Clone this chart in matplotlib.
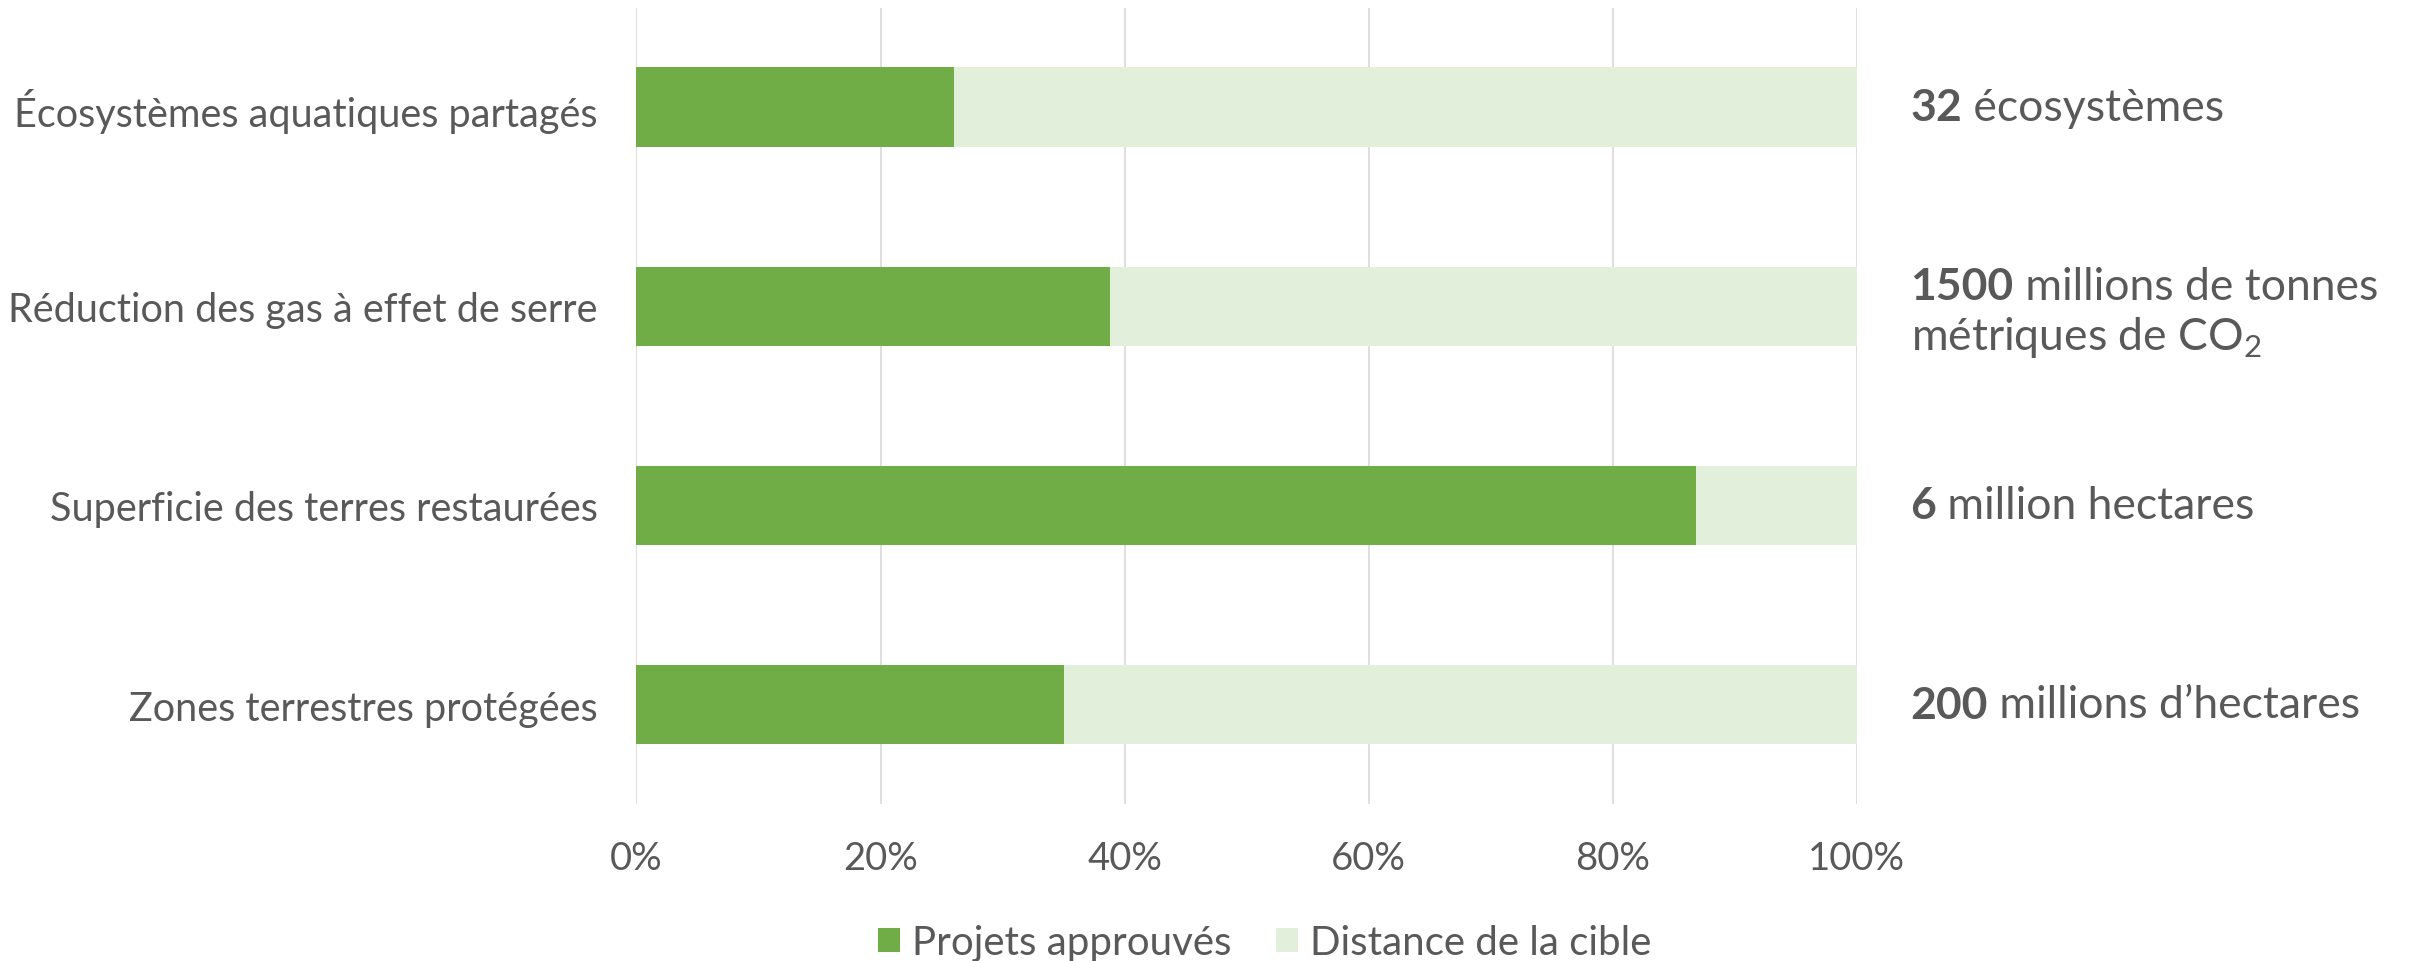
import matplotlib.pyplot as plt
from matplotlib.ticker import FuncFormatter

plt.rcParams['font.family'] = ['Lato', 'DejaVu Sans']
plt.rcParams['mathtext.fontset'] = 'custom'
plt.rcParams['mathtext.rm'] = 'Lato'

categories = ['Écosystèmes aquatiques partagés',
              'Réduction des gas à effet de serre',
              'Superficie des terres restaurées',
              'Zones terrestres protégées']
approved = [26.0, 38.8, 86.8, 35.0]
targets_bold = ['32', '1500', '6', '200']
targets_text = [' écosystèmes', ' millions de tonnes',
                ' million hectares', ' millions d\u2019hectares']
targets_line2 = ['', 'métriques de CO$_2$', '', '']

green = '#70ad47'
light = '#e2efda'
grey = '#595959'

fig = plt.figure(figsize=(24.09, 9.62), dpi=100)
ax = fig.add_axes([0.2642, 0.163, 0.5066, 0.828])

remaining = [100 - v for v in approved]
ax.barh(categories, approved, height=0.4, color=green, label='Projets approuvés', zorder=3)
ax.barh(categories, remaining, left=approved, height=0.4, color=light,
        label='Distance de la cible', zorder=3)

ax.set_xlim(0, 100)
ax.set_ylim(3.5, -0.5)
ax.set_xticks([0, 20, 40, 60, 80, 100])
ax.xaxis.set_major_formatter(FuncFormatter(lambda v, p: f'{v:.0f}%'))
ax.grid(axis='x', color='#d9d9d9', lw=1.2, zorder=0)
for s in ax.spines.values():
    s.set_visible(False)
ax.tick_params(length=0, labelcolor=grey)
ax.tick_params(axis='x', pad=26, labelsize=27.5)
ax.tick_params(axis='y', pad=28, labelsize=28.5)

leg = fig.legend(loc='lower center', bbox_to_anchor=(0.525, -0.038), ncol=2, frameon=False,
                 fontsize=29, handlelength=0.55, handleheight=0.55, handletextpad=0.3,
                 columnspacing=1.1, labelcolor=grey)

# right-hand target labels: bold number followed by regular text
fig.canvas.draw()
r = fig.canvas.get_renderer()
tr = ax.get_yaxis_transform()
for i, (b, t, t2) in enumerate(zip(targets_bold, targets_text, targets_line2)):
    y = i - 0.1 if t2 else i
    tb = ax.text(1.044, y, b, transform=tr, fontsize=32, fontweight='bold',
                 color=grey, va='center')
    bb = tb.get_window_extent(r)
    x1 = ax.transAxes.inverted().transform((bb.x1, bb.y0))[0]
    ax.text(x1, y, t, transform=tr, fontsize=32, color=grey, va='center')
    if t2:
        ax.text(1.044, i + 0.15, t2, transform=tr, fontsize=32, color=grey, va='center')

fig.savefig('out.png', dpi=100)
